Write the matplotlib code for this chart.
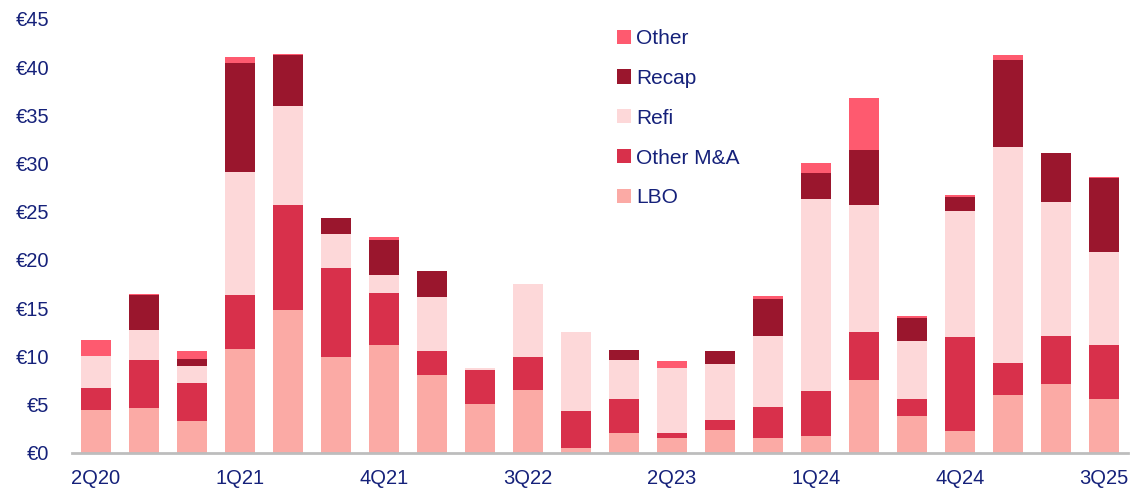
import matplotlib
matplotlib.use("Agg")
import matplotlib.pyplot as plt
import numpy as np

quarters = ["2Q20", "3Q20", "4Q20", "1Q21", "2Q21", "3Q21", "4Q21", "1Q22",
            "2Q22", "3Q22", "4Q22", "1Q23", "2Q23", "3Q23", "4Q23", "1Q24",
            "2Q24", "3Q24", "4Q24", "1Q25", "2Q25", "3Q25"]

lbo       = [4.40, 4.67, 3.29, 10.81, 14.84, 9.88, 11.15, 8.02, 5.09, 6.47, 0.47,
             2.02, 1.50, 2.40, 1.50, 1.71, 7.50, 3.78, 2.29, 6.02, 7.09, 5.57]
other_ma  = [2.35, 4.93, 3.93, 5.51, 10.87, 9.31, 5.45, 2.58, 3.44, 3.51, 3.82,
             3.55, 0.59, 0.99, 3.21, 4.65, 5.04, 1.75, 9.76, 3.31, 5.06, 5.65]
refi      = [3.27, 3.18, 1.80, 12.80, 10.31, 3.52, 1.80, 5.52, 0.24, 7.52, 8.28,
             4.03, 6.65, 5.80, 7.44, 19.97, 13.20, 6.04, 13.04, 22.34, 13.87, 9.62]
recap     = [0.00, 3.55, 0.72, 11.31, 5.27, 1.65, 3.72, 2.76, 0.00, 0.00, 0.00,
             1.08, 0.10, 1.34, 3.76, 2.69, 5.66, 2.38, 1.44, 9.11, 5.03, 7.66]
other     = [1.66, 0.14, 0.83, 0.66, 0.11, 0.00, 0.24, 0.00, 0.00, 0.00, 0.00,
             0.00, 0.66, 0.05, 0.31, 1.00, 5.38, 0.21, 0.21, 0.51, 0.00, 0.10]

series = [("LBO", lbo, "#FBAAA5"),
          ("Other M&A", other_ma, "#D8304B"),
          ("Refi", refi, "#FDD8D9"),
          ("Recap", recap, "#9A162D"),
          ("Other", other, "#FE5A6F")]

yticks = [0, 5, 10, 15, 20, 25, 30, 35, 40, 45]
ytick_labels = ["€" + str(v) for v in yticks]

navy = "#15217A"
plt.rcParams['font.family'] = ['Liberation Sans', 'DejaVu Sans']

fig = plt.figure(figsize=(11.32, 4.95), dpi=100)
ax = fig.add_axes([72 / 1132, 1 - 452.7 / 495, (1128 - 72) / 1132, (452.7 - 19) / 495])

x = np.arange(len(quarters))
bottom = np.zeros(len(quarters))
handles = []
for name, vals, col in series:
    v = np.array(vals)
    b = ax.bar(x, v, width=0.63, bottom=bottom, color=col, label=name,
               linewidth=0, zorder=2)
    handles.append(b)
    bottom += v

ax.set_xlim(-0.5, len(quarters) - 0.5)
ax.set_ylim(0, 45)
ax.set_yticks(yticks)
ax.set_yticklabels(ytick_labels)
ax.set_xticks(x[::3])
ax.set_xticklabels(quarters[::3])
ax.tick_params(axis='both', length=0, labelsize=14.5, colors=navy)
ax.tick_params(axis='x', pad=12)
ax.tick_params(axis='y', pad=16.5)
for lbl in ax.get_yticklabels():
    lbl.set_horizontalalignment('right')

for s in ["top", "right", "left"]:
    ax.spines[s].set_visible(False)
ax.spines["bottom"].set_color("#BDBDBD")
ax.spines["bottom"].set_linewidth(2)

leg = fig.legend(handles[::-1], [s[0] for s in series][::-1],
                 loc="upper left", bbox_to_anchor=(617 / 1132, 1 - 29 / 495),
                 frameon=False, fontsize=15, handlelength=0.67, handleheight=0.67,
                 handletextpad=0.25, labelspacing=1.0, borderpad=0, borderaxespad=0)
for t in leg.get_texts():
    t.set_color(navy)

fig.savefig("out.png", dpi=100)
